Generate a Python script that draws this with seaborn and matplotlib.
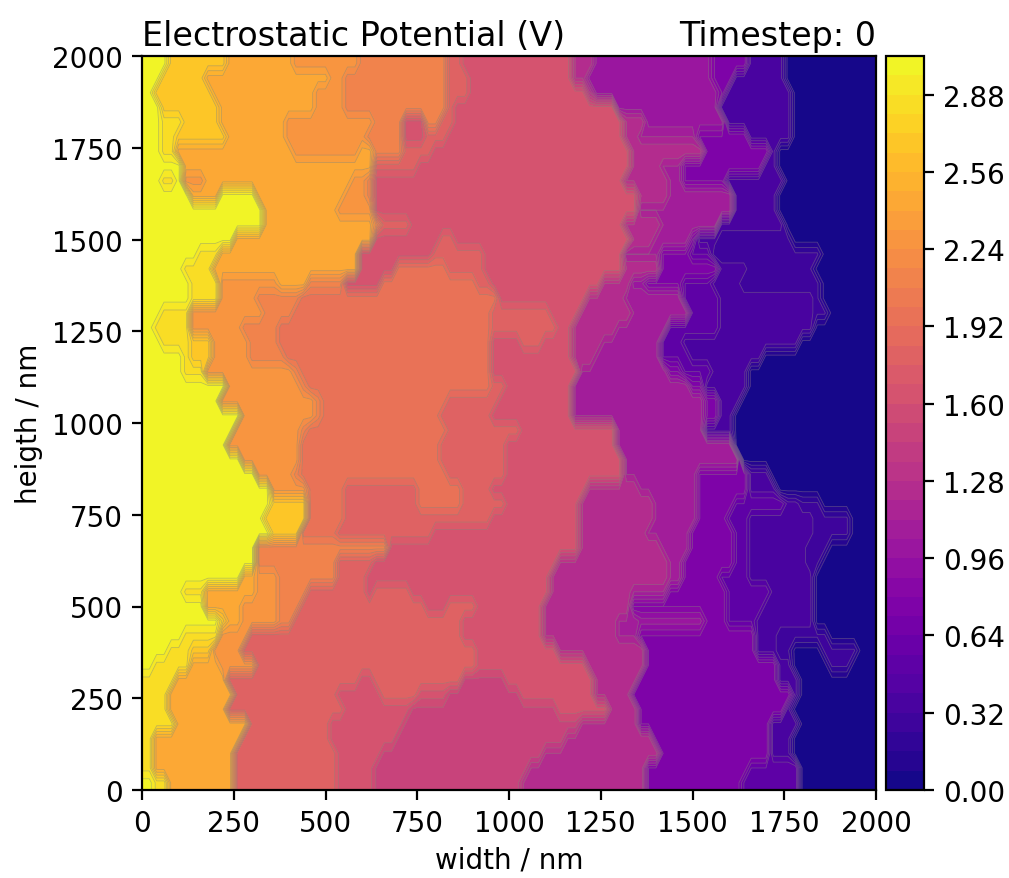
import numpy as np
import matplotlib
matplotlib.use("Agg")
import matplotlib.pyplot as plt
import seaborn as sns

# potential of each plateau in the map (V)
plateaus = {
    "Y": 3.00, "y": 2.85, "G": 2.68, "O": 2.44, "o": 2.28, "c": 2.12,
    "C": 1.96, "r": 1.80, "R": 1.64, "P": 1.50, "m": 1.28, "M": 1.12,
    "v": 1.00, "V": 0.80, "u": 0.56, "U": 0.36, "d": 0.26, "D": 0.04,
}

# one row every 40 nm, top to bottom: plateau letter + width where it ends (nm)
heights = np.arange(1980, 0, -40)
rows = [
    "Y70 G240 O420 o590 c840 r870 R1170 m1230 v1560 V1650 U1750 D",
    "Y60 G165 O520 o560 c840 r900 R1170 m1217 v1557 V1612 U1757 D",
    "Y30 G185 O462 o548 c840 r884 R1212 m1235 v1566 V1593 U1775 D",
    "Y45 G208 O462 o548 c840 r852 R1285 v1571 U1766 D",
    "Y58 y103 G208 O398 o621 c720 R775 c811 r857 R1312 m1375 v1593 U1775 D",
    "Y50 y100 G225 O400 o620 c720 R775 r839 R1303 m1357 M1512 V1648 U1780 D",
    "Y58 y85 O412 o594 O630 c702 r784 R1330 m1521 V1711 U1730 D",
    "Y103 O621 c639 r748 R1339 m1412 M1470 V1690 U1739 D",
    "Y49 y94 Y112 o176 O566 o602 c621 R1312 m1421 M1466 V1584 U1748 D",
    "Y130 O220 Y317 O548 o602 c625 R1357 m1421 M1612 U1730 D",
    "Y321 O539 o621 c639 R1353 M1612 U1730 D",
    "Y326 O634 c660 r730 R1316 m1403 M1566 U1748 D",
    "Y258 O621 c640 R820 r857 R1321 m1400 M1490 V1510 U1570 d1775 D",
    "Y150 y210 O595 R785 r930 R1320 M1405 V1500 u1560 d1850 D",
    "Y117 y199 O595 R695 C840 r930 R1307 m1403 V1575 U1657 d1839 D",
    "Y130 y212 o367 O457 c557 R648 C902 r948 R1250 m1325 v1375 V1466 u1557 U1640 d1848 D",
    "Y130 y203 o303 c439 C966 R1212 m1316 M1475 u1566 U1839 d1856 D",
    "Y44 y140 o330 c420 C957 r1112 R1194 m1321 M1484 u1575 U1830 d1875 D",
    "Y31 y130 o276 c367 C948 r1121 R1176 m1290 M1425 u1580 U1840 D",
    "Y49 y121 G194 o294 c376 C948 R1040 r1100 R1180 m1250 M1405 u1470 U1795 D",
    "Y103 y121 G194 o294 c385 C957 R1176 m1239 M1403 u1484 U1693 D",
    "Y112 y176 o403 c421 C957 R1185 M1430 V1466 u1548 U1652 D",
    "Y221 o421 c448 C948 r1000 R1176 M1484 V1539 U1648 D",
    "Y208 o466 c484 C830 r966 R1180 M1521 V1566 U1630 D",
    "Y267 o466 c494 C820 r957 R1176 M1530 V1566 U1612 D",
    "Y250 o430 c450 C830 r1040 R1285 M1530 U1610 D",
    "Y239 o421 C820 r994 R1285 M1602 d1616 D",
    "Y267 o421 C820 r1000 R1303 M1630 D",
    "Y317 o412 c440 C839 r1000 R1312 M1512 V1648 U1720 D",
    "Y355 o445 C555 r745 C865 r960 R1205 m1350 M1510 V1650 U1735 D",
    "Y348 G448 C548 r757 C875 r1000 R1194 m1385 M1512 V1612 u1748 U1793 d1848 D",
    "Y335 G448 C548 r960 R1194 m1385 M1502 V1593 u1650 U1834 d1929 D",
    "Y348 G439 C521 r784 R1185 m1375 M1493 V1602 u1648 U1834 d1929 D",
    "Y312 c675 R1194 m1403 M1484 V1602 u1657 U1820 d1866 D",
    "Y308 c530 r621 R1121 m1430 M1475 V1612 u1648 U1820 d1857 D",
    "Y276 O312 o367 c539 r612 R1112 m1421 M1475 V1566 u1648 U1830 D",
    "Y103 y167 O308 o376 c444 r602 R640 r740 R1112 m1330 M1440 V1585 u1710 U1830 D",
    "Y176 O280 o367 c430 r775 R840 r905 R1100 m1325 V1585 u1695 U1835 D",
    "Y212 G240 O276 o376 c410 r875 R1085 m1295 M1360 v1530 V1590 u1680 U1840 D",
    "Y112 y203 O220 o294 r875 R1094 m1294 M1353 V1675 U1740 d1880 D",
    "Y80 y130 G185 o276 r911 R1130 m1375 V1675 U1735 d1780 D1860 d1955 D",
    "Y21 y125 O205 o305 r910 R1212 m1375 V1730 U1775 D1870 d1935 D",
    "y85 O240 r590 R640 r870 P1000 R1230 m1357 V1739 U1793 D",
    "y80 O248 r539 R648 r757 R839 P1040 R1239 m1339 V1775 U1793 D",
    "y76 O239 r544 R740 P1140 R1265 m1345 V1750 U1780 D",
    "y85 O285 r510 R715 P1200 m1355 V1710 U1800 D",
    "y30 O276 r503 R684 P1150 m1385 V1711 U1775 D",
    "y40 O258 r530 R657 P1100 m1403 V1711 U1766 D",
    "y40 O258 r539 R630 P1058 m1366 V1648 u1784 D",
    "Y30 y70 O258 r539 R621 P1030 m1366 V1630 u1798 D",
]
colorbar_ticks = [0.00, 0.32, 0.64, 0.96, 1.28, 1.60, 1.92, 2.24, 2.56, 2.88]

# turn the rows into a potential grid
widths = np.arange(0, 2001, 20)
potential = []
for row in rows:
    values = np.full(widths.shape, plateaus[row.split()[-1][0]])
    for run in reversed(row.split()[:-1]):
        values[widths < int(run[1:])] = plateaus[run[0]]
    potential.append(values)
potential = [potential[0]] + potential + [potential[-1]]
ys = np.concatenate([[2000], heights, [0]])

sns.set_style("ticks")
plt.rcParams["text.color"] = "black"
plt.rcParams["axes.labelcolor"] = "black"
plt.rcParams["xtick.color"] = "black"
plt.rcParams["ytick.color"] = "black"

fig = plt.figure(figsize=(5.045, 4.395), dpi=200)
ax = fig.add_axes([142 / 1009, 1 - 791 / 879, 734 / 1009, 734 / 879])
cax = fig.add_axes([886 / 1009, 1 - 791 / 879, 38 / 1009, 734 / 879])

levels = np.arange(0, 3.05, 0.08)
cmap = sns.color_palette("plasma", as_cmap=True)
cf = ax.contourf(widths, ys, potential, levels=levels, cmap=cmap)
ax.contour(widths, ys, potential, levels=levels, colors="grey", linewidths=0.3, alpha=0.45)

ax.set_xlim(0, 2000)
ax.set_ylim(0, 2000)
ax.set_xticks(range(0, 2001, 250))
ax.set_yticks(range(0, 2001, 250))
ax.set_xlabel("width / nm", fontsize=10, labelpad=3)
ax.set_ylabel("heigth / nm", fontsize=10, labelpad=3)
ax.set_title("Electrostatic Potential (V)", loc="left", fontsize=12, pad=4)
ax.set_title("Timestep: 0", loc="right", fontsize=12, pad=4)
ax.tick_params(labelsize=10, length=3.5, width=0.8)
for spine in ax.spines.values():
    spine.set_color("black")
    spine.set_linewidth(0.8)

cbar = fig.colorbar(cf, cax=cax, ticks=colorbar_ticks)
cbar.ax.set_yticklabels([f"{t:.2f}" for t in colorbar_ticks])
cbar.ax.tick_params(labelsize=10, length=3.5, width=0.8)
cbar.outline.set_edgecolor("black")
cbar.outline.set_linewidth(0.8)

fig.savefig("out.png", dpi=200)
